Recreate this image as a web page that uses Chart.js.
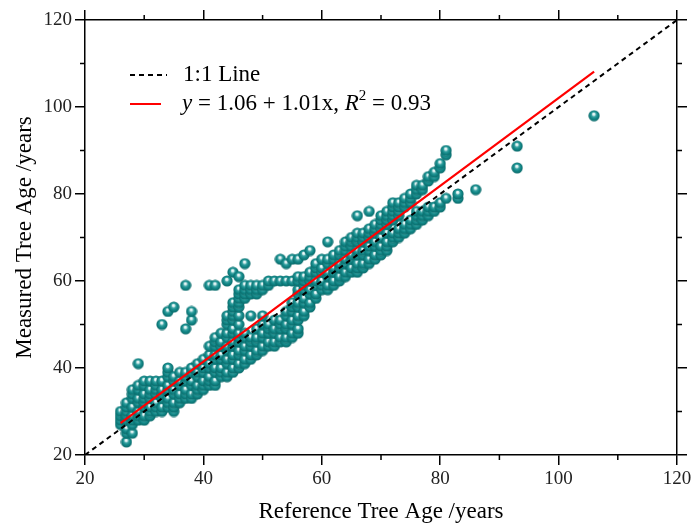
<!DOCTYPE html>
<html><head><meta charset="utf-8">
<script src="https://cdn.jsdelivr.net/npm/chart.js@4.4.1/dist/chart.umd.min.js"></script>
<style>html,body{margin:0;padding:0;background:#fff;}#wrap{position:relative;width:692px;height:523px;}</style>
</head><body><div id="wrap"><canvas id="c" width="692" height="523"></canvas></div>
<script>
// Reference tree age (x) and measured ages (y) grouped per reference age
const refAges = [26,27,28,29,30,31,32,33,34,35,36,37,38,39,40,41,42,43,44,45,46,47,48,49,50,51,52,53,54,55,56,57,58,59,60,61,62,63,64,65,66,67,68,69,70,71,72,73,74,75,76,77,78,79,80,81,83,86,93,106];
const measuredAges = [
 [27,28,29,30],
 [23,25,26,28,29,30,31,32],
 [25,27,28,29,31,33,34,35],
 [28,29,30,32,33,35,36,41],
 [28,29,31,32,33,34,36,37],
 [29,30,31,33,34,35,37],
 [30,31,32,34,35,36,37],
 [30,31,33,34,35,37,50],
 [31,32,33,35,36,38,39,40,53],
 [30,31,32,34,35,37,38,54],
 [32,33,34,36,37,39],
 [33,34,35,37,38,39,49,59],
 [33,34,36,37,39,40,51,53],
 [34,35,36,38,39,41],
 [35,36,37,39,40,42],
 [36,37,38,40,41,43,45,59],
 [36,37,39,40,42,43,45,46,47,59],
 [38,39,40,42,43,45,46,48],
 [38,39,41,42,44,45,47,48,50,51,52,60],
 [39,40,42,43,45,46,48,49,51,52,53,54,55,62],
 [40,41,43,44,46,47,48,50,52,54,55,56,57,58,61],
 [41,42,44,45,47,48,56,57,58,59,64],
 [42,43,45,46,47,52,57,58,59],
 [43,44,46,47,49,57,58,59],
 [44,45,47,48,50,52,58,59],
 [45,46,48,49,50,59,60],
 [45,46,48,49,51,60],
 [46,47,49,50,51,60,65],
 [46,47,49,50,52,53,60,64],
 [47,48,50,51,53,54,55,60,65],
 [48,49,51,52,54,55,57,58,60,61,65],
 [52,53,55,56,58,59,60,61,66],
 [54,55,57,58,60,61,62,67],
 [56,57,59,60,62,63,64],
 [58,59,60,62,63,65],
 [58,59,61,62,64,65,69],
 [59,60,62,63,65,66],
 [60,61,63,64,66,67],
 [61,62,64,65,67,68,69],
 [62,63,65,66,68,69,70],
 [62,63,64,66,67,69,70,71,75],
 [63,64,66,67,69,70,71],
 [64,65,67,68,70,71,72,76],
 [65,66,68,69,71,72,73],
 [66,67,68,70,72,73,74,75],
 [67,68,69,71,73,74,75,76],
 [69,70,71,74,75,76,77,78],
 [70,71,72,75,76,77,78],
 [71,72,73,77,78,79],
 [72,73,74,78,79,80],
 [73,74,75,76,80,81,82],
 [74,75,76,81,82],
 [75,76,77,83,84],
 [76,77,84,85],
 [77,78,86,87],
 [79,89,90],
 [79,80],
 [81],
 [86,91],
 [98]
];
const oneToOneRef = [20,120];
const oneToOneMeas = [20,120];
const fitRef = [26,106];
const fitMeas = [27.32,108.12];
const minorTicks = [30,50,70,90,110];
const xTitle = 'Reference Tree Age /years';
const yTitle = 'Measured Tree Age /years';

const scatterPts = [];
refAges.forEach((r,i)=>measuredAges[i].forEach(m=>scatterPts.push({x:r,y:m})));
const toXY = (xs,ys)=>xs.map((v,i)=>({x:v,y:ys[i]}));

// sphere marker
function sphere(){
  const s=12, c=document.createElement('canvas'); c.width=s; c.height=s;
  const g=c.getContext('2d');
  const grad=g.createRadialGradient(5.6,4.0,0.2,6,6,6.0);
  grad.addColorStop(0,'#ffffff');
  grad.addColorStop(0.2,'#c8e8e8');
  grad.addColorStop(0.36,'#3aa3a3');
  grad.addColorStop(0.6,'#138989');
  grad.addColorStop(1,'#086464');
  g.fillStyle=grad; g.beginPath(); g.arc(6,6,5.6,0,Math.PI*2); g.fill();
  return c;
}
const ball = sphere();
const FONT='"Liberation Serif","Times New Roman",serif';

const minorTickPlugin = {
  id:'minorTicks',
  afterDraw(chart){
    const {ctx, chartArea:a, scales} = chart;
    ctx.save(); ctx.strokeStyle='#000'; ctx.lineWidth=1.5;
    minorTicks.forEach(v=>{
      const px=scales.x.getPixelForValue(v), py=scales.y.getPixelForValue(v);
      ctx.beginPath();
      ctx.moveTo(px,a.bottom); ctx.lineTo(px,a.bottom+5);
      ctx.moveTo(px,a.top); ctx.lineTo(px,a.top-5);
      ctx.moveTo(a.left,py); ctx.lineTo(a.left-5,py);
      ctx.moveTo(a.right,py); ctx.lineTo(a.right+5,py);
      ctx.stroke();
    });
    ctx.restore();
  }
};
const legendPlugin = {
  id:'customLegend',
  afterDraw(chart){
    const ctx=chart.ctx; ctx.save();
    ctx.textBaseline='middle';
    ctx.strokeStyle='#000'; ctx.lineWidth=2; ctx.setLineDash([5,4]);
    ctx.beginPath(); ctx.moveTo(130,75); ctx.lineTo(167,75); ctx.stroke();
    ctx.setLineDash([]);
    ctx.strokeStyle='#ff0000';
    ctx.beginPath(); ctx.moveTo(130,104); ctx.lineTo(161,104); ctx.stroke();
    ctx.fillStyle='#000';
    ctx.font='23px '+FONT;
    ctx.fillText('1:1 Line',183,75);
    let x=182; const y=104;
    const seg=(t,f,dy)=>{ctx.font=f; ctx.fillText(t,x,y+(dy||0)); x+=ctx.measureText(t).width;};
    seg('y','italic 23px '+FONT);
    seg(' = 1.06 + 1.01x, ','23px '+FONT);
    seg('R','italic 23px '+FONT);
    seg('2','15px '+FONT,-8);
    seg(' = 0.93','23px '+FONT);
    ctx.restore();
  }
};

const axisBase = (pos)=>({
  type:'linear', min:20, max:120, position:pos,
  ticks:{stepSize:20, color:'#222', font:{family:FONT,size:19}, padding:3, maxRotation:0, autoSkip:false},
  grid:{drawOnChartArea:false, drawTicks:true, tickLength:10, color:'#000', lineWidth:1.5},
  border:{display:true, color:'#000', width:1.5}
});

const xs = axisBase('bottom'); xs.title={display:true,text:xTitle,color:'#000',font:{family:FONT,size:23},padding:{top:0,bottom:-3}};
xs.afterFit = s=>{s.height=68; s.paddingRight=0; s.paddingLeft=0;};
const ys = axisBase('left'); ys.title={display:true,text:yTitle,color:'#000',font:{family:FONT,size:23},padding:{top:11,bottom:0}};
ys.afterFit = s=>{s.width=85; s.paddingTop=0; s.paddingBottom=0;};
const x2 = axisBase('top'); x2.ticks={display:false,stepSize:20}; x2.afterFit=s=>{s.height=20;};
const y2 = axisBase('right'); y2.ticks={display:false,stepSize:20}; y2.afterFit=s=>{s.width=15;};

new Chart(document.getElementById('c'),{
  data:{datasets:[
    {type:'line', label:'Fit', data:toXY(fitRef,fitMeas), borderColor:'#ff0000', borderWidth:2.2, pointRadius:0, order:0, xAxisID:'x', yAxisID:'y'},
    {type:'line', label:'1:1 Line', data:toXY(oneToOneRef,oneToOneMeas), borderColor:'#000', borderWidth:2, borderDash:[5,4], pointRadius:0, order:1, xAxisID:'x', yAxisID:'y'},
    {type:'scatter', label:'Samples', data:scatterPts, pointStyle:ball, pointRadius:6, order:2, xAxisID:'x', yAxisID:'y'}
  ]},
  options:{
    responsive:false, animation:false, devicePixelRatio:1, events:[],
    layout:{padding:0},
    plugins:{legend:{display:false}, tooltip:{enabled:false}},
    scales:{x:xs, y:ys, x2:x2, y2:y2}
  },
  plugins:[minorTickPlugin, legendPlugin]
});
</script></body></html>
